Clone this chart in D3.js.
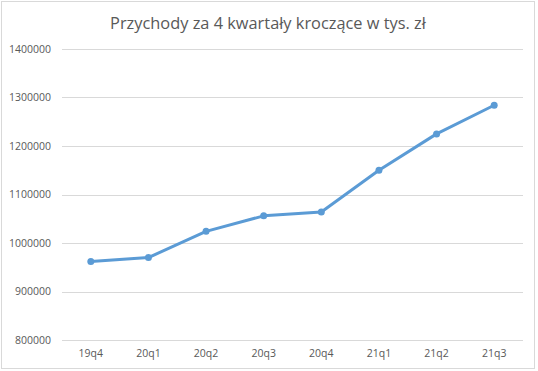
<!DOCTYPE html>
<html>
<head>
<meta charset="utf-8">
<script src="https://cdn.jsdelivr.net/npm/d3@7"></script>
<style>
  body { margin: 0; background: #fff; }
  text { font-family: "Open Sans", "Liberation Sans", sans-serif; fill: #595959; }
</style>
</head>
<body>
<script>
// ---- data ----
const quarters = ['19q4', '20q1', '20q2', '20q3', '20q4', '21q1', '21q2', '21q3']
const revenue = [962000, 970000, 1024000, 1056000, 1064000, 1150000, 1225000, 1284000]
const yTicks = [800000, 900000, 1000000, 1100000, 1200000, 1300000, 1400000]
const title = 'Przychody za 4 kwartały kroczące w tys. zł'

const W = 538, H = 371
const margin = { top: 49, right: 15, bottom: 31, left: 62 }
const width = 523 - margin.left,
    height = 340 - margin.top

const root = d3.select('body').append('svg')
    .attr('width', W)
    .attr('height', H)

// chart border
root.append('rect')
    .attr('x', 1.5).attr('y', 1.5)
    .attr('width', 533).attr('height', 367)
    .attr('fill', '#fff')
    .attr('stroke', '#d9d9d9')

const svg = root.append('g')
    .attr('transform', 'translate(' + margin.left + ',' + margin.top + ')')

const x = d3.scaleBand()
    .domain(quarters)
    .range([0, width])

const y = d3.scaleLinear()
    .domain([800000, 1400000])
    .range([height, 0])

// grid lines
svg.append('g')
    .selectAll('line')
    .data(yTicks)
    .enter().append('line')
    .attr('x1', 0)
    .attr('x2', width)
    .attr('y1', d => Math.round(y(d)) + 0.5)
    .attr('y2', d => Math.round(y(d)) + 0.5)
    .attr('stroke', '#d9d9d9')
    .attr('stroke-width', 1)

// y axis labels
const yAxis = svg.append('g')
    .call(d3.axisLeft(y).tickValues(yTicks).tickSize(0).tickPadding(11).tickFormat(d3.format('d')))
yAxis.select('.domain').remove()
yAxis.selectAll('text')
    .style('font-size', '10.5px')
    .attr('fill', '#595959')

// x axis labels
const xAxis = svg.append('g')
    .attr('transform', 'translate(0,' + height + ')')
    .call(d3.axisBottom(x).tickSize(0).tickPadding(10))
xAxis.select('.domain').remove()
xAxis.selectAll('text')
    .style('font-size', '10.5px')
    .attr('fill', '#595959')

// line
const line = d3.line()
    .x((d, i) => x(quarters[i]) + x.bandwidth() / 2)
    .y(d => y(d))

svg.append('path')
    .datum(revenue)
    .attr('d', line)
    .attr('fill', 'none')
    .attr('stroke', '#5b9bd5')
    .attr('stroke-width', 3)
    .attr('stroke-linejoin', 'round')
    .attr('stroke-linecap', 'round')

svg.append('g')
    .selectAll('circle')
    .data(revenue)
    .enter().append('circle')
    .attr('cx', (d, i) => x(quarters[i]) + x.bandwidth() / 2)
    .attr('cy', d => y(d))
    .attr('r', 3.5)
    .attr('fill', '#5b9bd5')

// title, sized to the reference width
const t = root.append('text')
    .attr('x', 268)
    .attr('y', 29)
    .attr('text-anchor', 'middle')
    .style('font-size', '18px')
    .text(title)
const tw = t.node().getComputedTextLength()
t.style('font-size', (18 * 316 / tw) + 'px')
</script>
</body>
</html>
